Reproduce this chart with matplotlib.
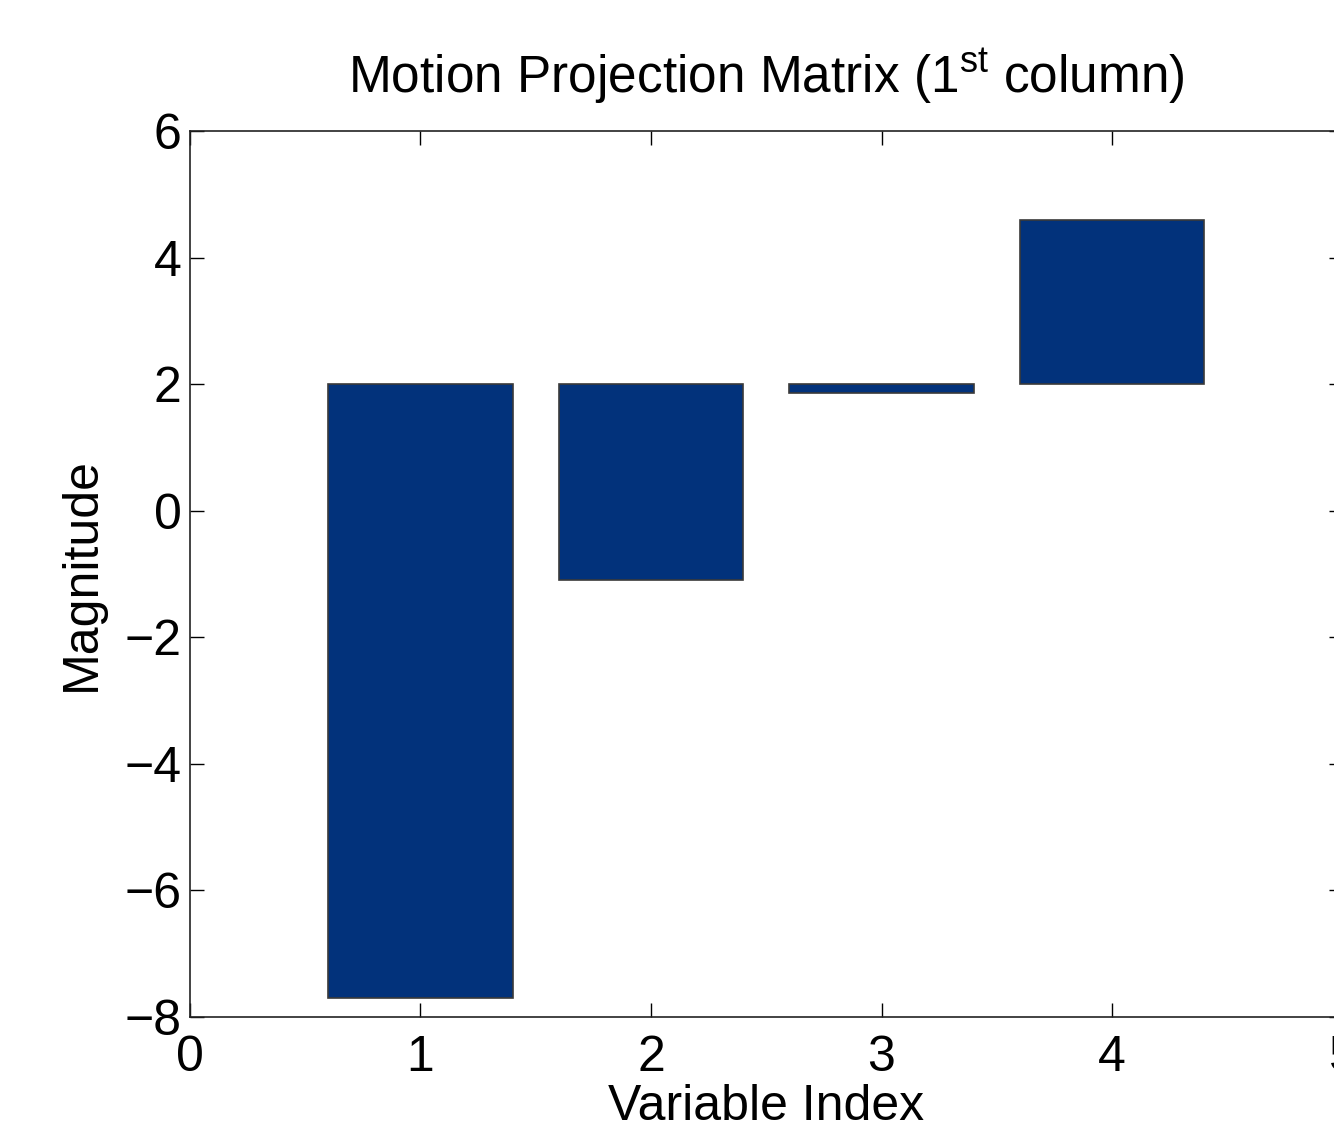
import matplotlib
matplotlib.use("Agg")
import matplotlib.pyplot as plt

# Projection weights per variable, drawn relative to a baseline of 2
variables = [1, 2, 3, 4]
magnitudes = [-7.7, -1.1, 1.87, 4.6]
baseline = 2.0
x_ticks = [0, 1, 2, 3, 4, 5]
y_ticks = [-8, -6, -4, -2, 0, 2, 4, 6]

plt.rcParams["font.family"] = ["Liberation Sans", "DejaVu Sans"]
plt.rcParams["mathtext.fontset"] = "custom"
plt.rcParams["mathtext.rm"] = "Liberation Sans"

fig = plt.figure(figsize=(13.34, 11.24), dpi=100)
ax = fig.add_axes([0.1424, 0.0952, 0.864, 0.788])

heights = [m - baseline for m in magnitudes]
ax.bar(variables, heights, width=0.8, bottom=baseline,
       color="#02327b", edgecolor="#3a3a3a", linewidth=1.2)

ax.set_xlim(0, 5)
ax.set_ylim(-8, 6)
ax.set_xticks(x_ticks)
ax.set_yticks(y_ticks)
ax.set_yticklabels([str(v).replace("-", "\u2212") for v in y_ticks])
ax.tick_params(direction="in", length=10, width=1, labelsize=36,
               top=True, right=True)
ax.tick_params(axis="x", pad=13)
ax.tick_params(axis="y", pad=6)
for s in ax.spines.values():
    s.set_linewidth(1.2)
    s.set_color("#222222")

ax.set_title(r"Motion Projection Matrix (1$^{\rm st}$ column)", fontsize=37, pad=28)
ax.set_xlabel("Variable Index", fontsize=36, labelpad=2)
ax.set_ylabel("Magnitude", fontsize=36, labelpad=14)

fig.savefig("out.png", dpi=100)
